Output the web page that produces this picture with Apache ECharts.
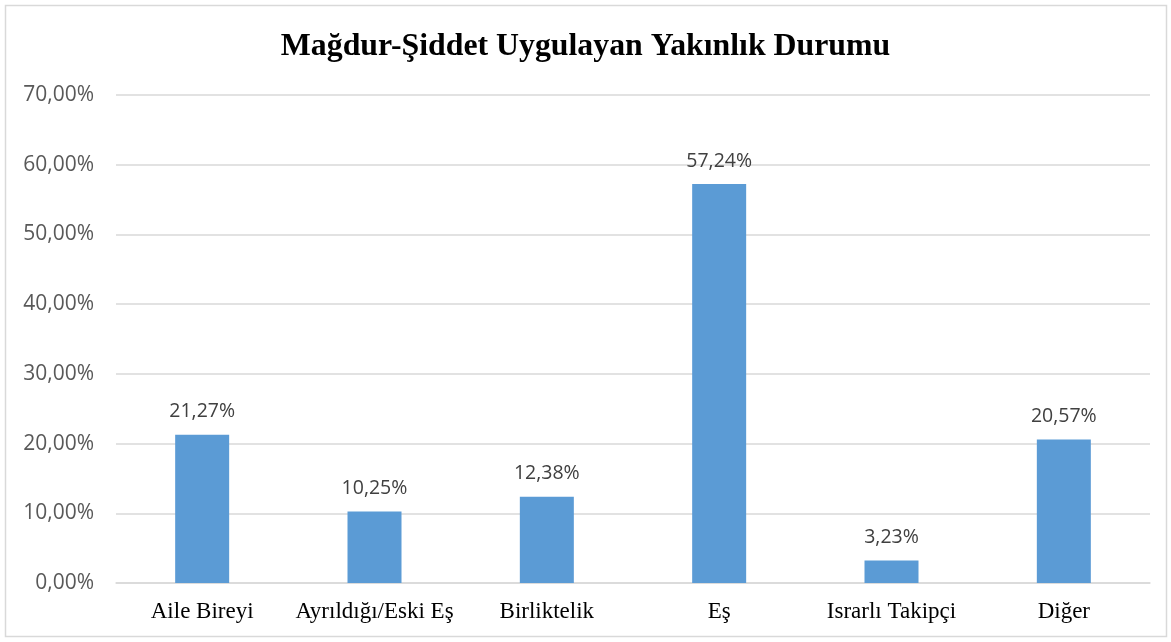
<!DOCTYPE html>
<html>
<head>
<meta charset="utf-8">
<script src="https://cdn.jsdelivr.net/npm/echarts@6/dist/echarts.min.js"></script>
<style>
  html, body { margin: 0; padding: 0; background: #fff; }
  #chart { width: 1171px; height: 642px; }
</style>
</head>
<body>
<div id="chart"></div>
<script>
// categories and values
var categories = ['Aile Bireyi', 'Ayrıldığı/Eski Eş', 'Birliktelik', 'Eş', 'Israrlı Takipçi', 'Diğer']
var values = [21.27, 10.25, 12.38, 57.24, 3.23, 20.57]

function pct(v) {
  return v.toFixed(2).replace('.', ',') + '%'
}

var chart = echarts.init(document.getElementById('chart'))
chart.setOption({
  animation: false,
  title: {
    text: 'Mağdur-Şiddet Uygulayan Yakınlık Durumu',
    left: 'center',
    top: 26,
    textStyle: {
      fontFamily: 'Liberation Serif',
      fontWeight: 'bold',
      fontSize: 31.8,
      color: '#000'
    }
  },
  graphic: [{
    type: 'rect',
    shape: { x: 5.5, y: 5.5, width: 1161, height: 631 },
    style: { fill: 'none', stroke: '#d9d9d9', lineWidth: 1.5 }
  }],
  grid: {
    left: 116,
    right: 21,
    top: 95,
    bottom: 59,
    containLabel: false
  },
  xAxis: {
    type: 'category',
    data: categories,
    axisTick: { show: false },
    axisLine: { lineStyle: { color: '#d9d9d9', width: 1.5 } },
    axisLabel: {
      interval: 0,
      fontFamily: 'Liberation Serif',
      fontSize: 23,
      color: '#000',
      margin: 17
    }
  },
  yAxis: {
    type: 'value',
    min: 0,
    max: 70,
    interval: 10,
    axisLine: { show: false },
    axisTick: { show: false },
    splitLine: { lineStyle: { color: '#d9d9d9', width: 1.5 } },
    axisLabel: {
      fontFamily: 'Open Sans',
      fontSize: 21,
      color: '#595959',
      margin: 22,
      formatter: function (v) { return pct(v) }
    }
  },
  series: [{
    type: 'bar',
    data: values,
    barWidth: 54,
    itemStyle: { color: '#5b9bd5' },
    label: {
      show: true,
      position: 'top',
      distance: 13,
      fontFamily: 'Open Sans',
      fontSize: 19.5,
      color: '#404040',
      formatter: function (p) { return pct(p.value) }
    }
  }]
})
</script>
</body>
</html>
